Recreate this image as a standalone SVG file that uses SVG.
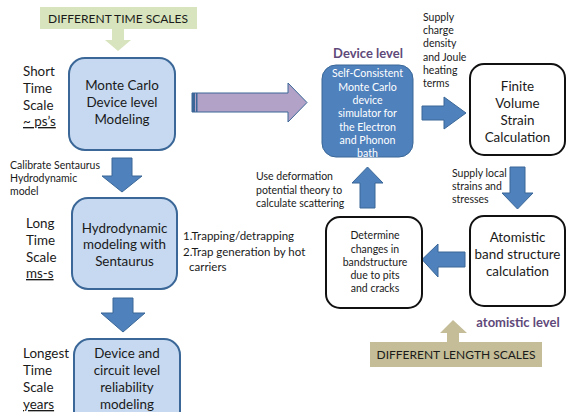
<svg xmlns="http://www.w3.org/2000/svg" width="568" height="412" viewBox="0 0 568 412">
<style>
text{font-family:Lato,"Open Sans","Liberation Sans",sans-serif;fill:#1a1a1a}
.big{font-size:13.4px}
.sm{font-size:10.5px}
.mid{font-size:11.5px}
.c{text-anchor:middle}
.lb{fill:#c6d9f0;stroke:#3a6797;stroke-width:2}
.wb{fill:#fff;stroke:#111;stroke-width:2}
.ba{fill:#4f81bd;stroke:#3a6797;stroke-width:1}
.wt{fill:#fff;font-size:10.6px}
.pl{fill:#5f497a;font-weight:bold;font-size:13px}
.u{text-decoration:underline}
.cap{font-size:12px}
</style>
<rect width="568" height="412" fill="#fff"/>
<g id="time-scales">
<rect x="40" y="7" width="157" height="22" fill="#d7e4bd"/>
<text class="c cap" x="118" y="22.5">DIFFERENT TIME SCALES</text>
</g>
<g id="length-scales">
<rect x="370" y="342" width="172" height="25" fill="#c4bd97"/>
<text class="c cap" x="456" y="359">DIFFERENT LENGTH SCALES</text>
</g>
<g id="connectors">
<polygon points="112,29 124,29 124,40 131,40 118,51 105,40 112,40" fill="#d7e4bd"/>
<polygon points="447,342 459,342 459,333 467,333 453,320 440,333 447,333" fill="#c4bd97"/>
<polygon points="192,93 288,93 288,83 307,102.5 288,122 288,112 192,112" fill="#b3a2c7" stroke="#3a6797" stroke-width="1"/>
<rect x="192" y="93" width="3" height="19" fill="#3a6797"/>
<rect x="196" y="93" width="1.5" height="19" fill="#3a6797"/>
<polygon class="ba" points="112,158 132,158 132,176 142,176 122,192 102,176 112,176"/>
<polygon class="ba" points="113,298 133,298 133,313 145,313 123,332 101,313 113,313"/>
<polygon class="ba" points="422,106 444,106 444,97 466,113 444,129 444,120 422,120"/>
<polygon class="ba" points="510,167 525,167 525,193 533,193 517.5,209 502,193 510,193"/>
<polygon class="ba" points="360,208 375,208 375,183 383,183 367.5,167 352,183 360,183"/>
<polygon class="ba" points="465,252 438,252 438,244 422,259.5 438,277 438,267 465,267"/>
</g>
<g id="monte-carlo">
<rect class="lb" x="69" y="58" width="106" height="92" rx="16"/>
<text class="big c" x="122" y="90">Monte Carlo</text>
<text class="big c" x="122" y="107">Device level</text>
<text class="big c" x="122" y="124">Modeling</text>
</g>
<g id="short-label">
<text class="big" x="23" y="76">Short</text>
<text class="big" x="23" y="93">Time</text>
<text class="big" x="23" y="110">Scale</text>
<text class="big u" x="23" y="126">~ ps’s</text>
</g>
<g id="calibrate">
<text class="sm" x="10" y="169">Calibrate Sentaurus</text>
<text class="sm" x="10" y="182">Hydrodynamic</text>
<text class="sm" x="10" y="195">model</text>
</g>
<g id="hydrodynamic">
<rect class="lb" x="72" y="198" width="105" height="91" rx="16"/>
<text class="big c" x="124.5" y="233">Hydrodynamic</text>
<text class="big c" x="124.5" y="249">modeling with</text>
<text class="big c" x="124.5" y="266">Sentaurus</text>
</g>
<g id="long-label">
<text class="big" x="26" y="228">Long</text>
<text class="big" x="26" y="245">Time</text>
<text class="big" x="26" y="262">Scale</text>
<text class="big u" x="26" y="278">ms-s</text>
</g>
<g id="trapping">
<text class="mid" x="183" y="240">1.Trapping/detrapping</text>
<text class="mid" x="183" y="256">2.Trap generation by hot</text>
<text class="mid" x="189" y="271">carriers</text>
</g>
<g id="reliability">
<rect class="lb" x="74" y="339" width="106" height="90" rx="16"/>
<text class="big c" x="127" y="358">Device and</text>
<text class="big c" x="127" y="375">circuit level</text>
<text class="big c" x="127" y="392">reliability</text>
<text class="big c" x="127" y="409">modeling</text>
</g>
<g id="longest-label">
<text class="big" x="23" y="358">Longest</text>
<text class="big" x="23" y="375">Time</text>
<text class="big" x="23" y="392">Scale</text>
<text class="big u" x="23" y="409">years</text>
</g>
<g id="device-level">
<text class="pl c" x="368" y="58">Device level</text>
<rect class="ba" x="322" y="65" width="91" height="92" rx="14" stroke-width="1.5"/>
<text class="c wt" x="367.5" y="77">Self-Consistent</text>
<text class="c wt" x="367.5" y="91">Monte Carlo</text>
<text class="c wt" x="367.5" y="104">device</text>
<text class="c wt" x="367.5" y="117">simulator for</text>
<text class="c wt" x="367.5" y="131">the Electron</text>
<text class="c wt" x="367.5" y="144">and Phonon</text>
<text class="c wt" x="367.5" y="157">bath</text>
</g>
<g id="supply-charge">
<text class="sm" x="423" y="21">Supply</text>
<text class="sm" x="423" y="34">charge</text>
<text class="sm" x="423" y="47">density</text>
<text class="sm" x="423" y="61">and Joule</text>
<text class="sm" x="423" y="74">heating</text>
<text class="sm" x="423" y="87">terms</text>
</g>
<g id="finite-volume">
<rect class="wb" x="470" y="64" width="95" height="91" rx="14"/>
<text class="big c" x="517.5" y="91">Finite</text>
<text class="big c" x="517.5" y="108">Volume</text>
<text class="big c" x="517.5" y="125">Strain</text>
<text class="big c" x="517.5" y="142">Calculation</text>
</g>
<g id="supply-local">
<text class="sm" x="452" y="177">Supply local</text>
<text class="sm" x="452" y="190">strains and</text>
<text class="sm" x="452" y="203">stresses</text>
</g>
<g id="deformation">
<text class="sm" x="256" y="180">Use deformation</text>
<text class="sm" x="256" y="194">potential  theory to</text>
<text class="sm" x="256" y="207">calculate scattering</text>
</g>
<g id="determine">
<rect class="wb" x="326" y="217" width="96" height="91" rx="14"/>
<text class="sm c" x="375" y="239">Determine</text>
<text class="sm c" x="375" y="253">changes in</text>
<text class="sm c" x="375" y="266">bandstructure</text>
<text class="sm c" x="375" y="279">due to pits</text>
<text class="sm c" x="375" y="292">and cracks</text>
</g>
<g id="atomistic">
<rect class="wb" x="470" y="216" width="95" height="90" rx="14"/>
<text class="big c" x="517.5" y="242">Atomistic</text>
<text class="big c" x="517.5" y="259">band structure</text>
<text class="big c" x="517.5" y="276">calculation</text>
<text class="pl c" x="518" y="327">atomistic level</text>
</g>
</svg>
